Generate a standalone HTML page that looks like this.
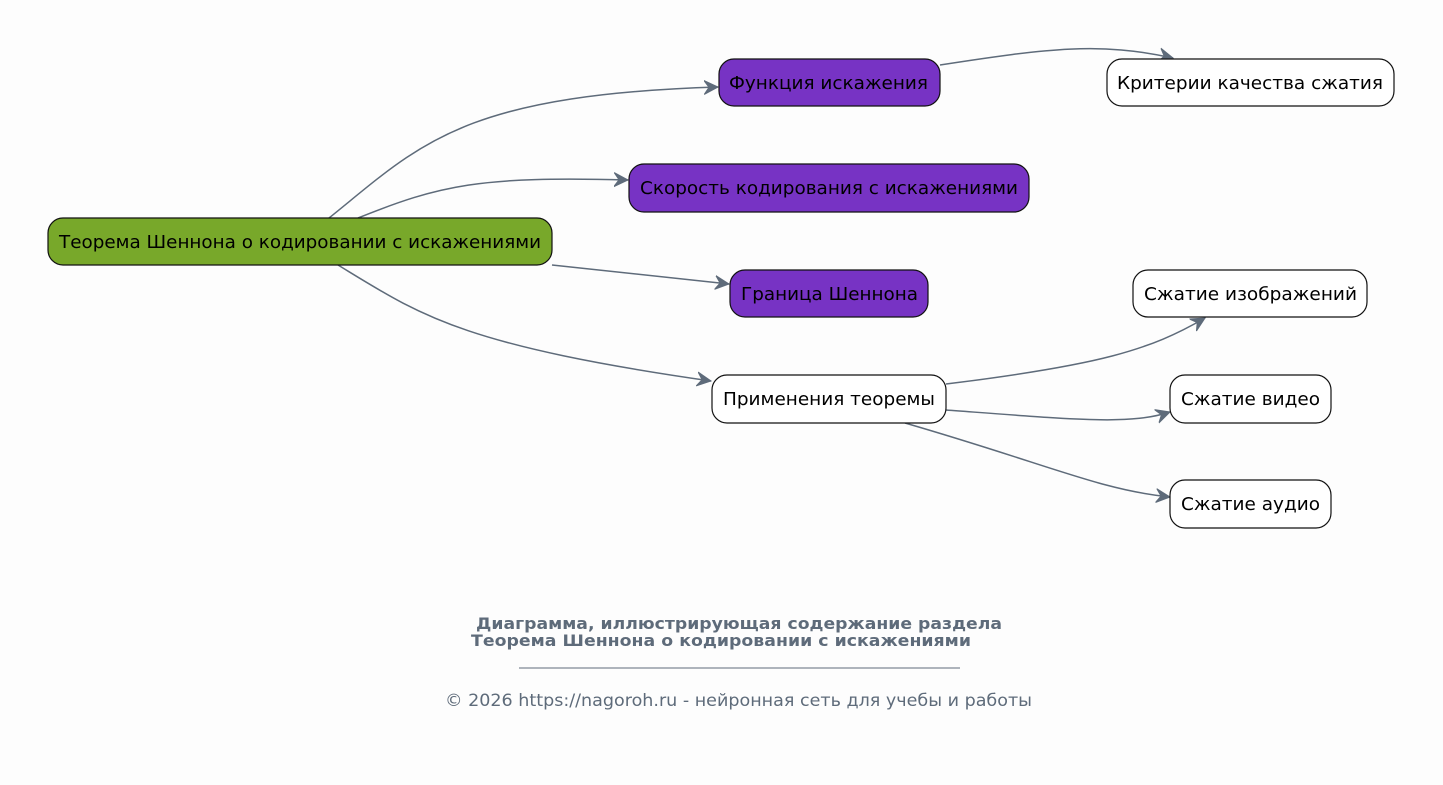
<!DOCTYPE html>
<html><head><meta charset="utf-8"><style>
html,body{margin:0;padding:0;background:#fdfdfd;}
svg{display:block;}
text{font-family:"DejaVu Sans","Liberation Sans",sans-serif;}
</style></head><body>
<svg width="1443" height="785" viewBox="0 0 1443 785" xmlns="http://www.w3.org/2000/svg">
<defs>
<marker id="a" viewBox="-14 -8 16 16" refX="0" refY="0" markerWidth="16" markerHeight="16" markerUnits="userSpaceOnUse" orient="auto">
<path d="M-14,-7 L0,0 L-14,7 L-9,0 Z" fill="#5e6b7a" stroke="#5e6b7a" stroke-width="1"/>
</marker>
</defs>
<rect width="1443" height="785" fill="#fdfdfd"/>
<g fill="none" stroke="#5e6b7a" stroke-width="1.5" marker-end="url(#a)">
<path d="M329,218 C420,145 460,95 718,87"/>
<path d="M358,218 C440,185 480,176 628,180"/>
<path d="M552,265 L729,284"/>
<path d="M338,265 C420,315 460,345 711,381"/>
<path d="M940,65 C1050,48 1100,42 1173,58"/>
<path d="M946,384 C1100,365 1150,350 1205,318"/>
<path d="M946,410 C1080,420 1130,425 1170,412"/>
<path d="M905,423 C1050,465 1100,490 1170,497"/>
</g>
<g stroke="#111" stroke-width="1.2">
<rect x="48" y="218" width="504" height="47" rx="15" fill="#78a82a"/>
<rect x="719" y="59" width="221" height="47" rx="15" fill="#7733c4"/>
<rect x="629" y="164" width="400" height="48" rx="15" fill="#7733c4"/>
<rect x="730" y="270" width="198" height="47" rx="15" fill="#7733c4"/>
<rect x="712" y="375" width="234" height="48" rx="15" fill="#fff"/>
<rect x="1107" y="59" width="287" height="47" rx="15" fill="#fff"/>
<rect x="1133" y="270" width="234" height="47" rx="15" fill="#fff"/>
<rect x="1170" y="375" width="161" height="48" rx="15" fill="#fff"/>
<rect x="1170" y="480" width="161" height="48" rx="15" fill="#fff"/>
</g>
<g font-size="18" fill="#000" lengthAdjust="spacingAndGlyphs">
<text x="59" y="248" textLength="482" lengthAdjust="spacingAndGlyphs">Теорема Шеннона о кодировании с искажениями</text>
<text x="729" y="89" textLength="199" lengthAdjust="spacingAndGlyphs">Функция искажения</text>
<text x="640" y="194" textLength="378" lengthAdjust="spacingAndGlyphs">Скорость кодирования с искажениями</text>
<text x="741" y="300" textLength="177" lengthAdjust="spacingAndGlyphs">Граница Шеннона</text>
<text x="723" y="405" textLength="212" lengthAdjust="spacingAndGlyphs">Применения теоремы</text>
<text x="1117" y="89" textLength="266" lengthAdjust="spacingAndGlyphs">Критерии качества сжатия</text>
<text x="1144" y="300" textLength="213" lengthAdjust="spacingAndGlyphs">Сжатие изображений</text>
<text x="1181" y="405" textLength="139" lengthAdjust="spacingAndGlyphs">Сжатие видео</text>
<text x="1181" y="510" textLength="139" lengthAdjust="spacingAndGlyphs">Сжатие аудио</text>
</g>
<g fill="#5e6b7a">
<text x="476" y="629" font-size="16" font-weight="bold" textLength="526" lengthAdjust="spacingAndGlyphs">Диаграмма, иллюстрирующая содержание раздела</text>
<text x="471" y="646" font-size="16" font-weight="bold" textLength="500" lengthAdjust="spacingAndGlyphs">Теорема Шеннона о кодировании с искажениями</text>
<line x1="519" y1="668" x2="960" y2="668" stroke="#5e6b7a" stroke-width="1"/>
<text x="445" y="706" font-size="17" textLength="587" lengthAdjust="spacingAndGlyphs">© 2026 https://nagoroh.ru - нейронная сеть для учебы и работы</text>
</g>
</svg>
</body></html>
